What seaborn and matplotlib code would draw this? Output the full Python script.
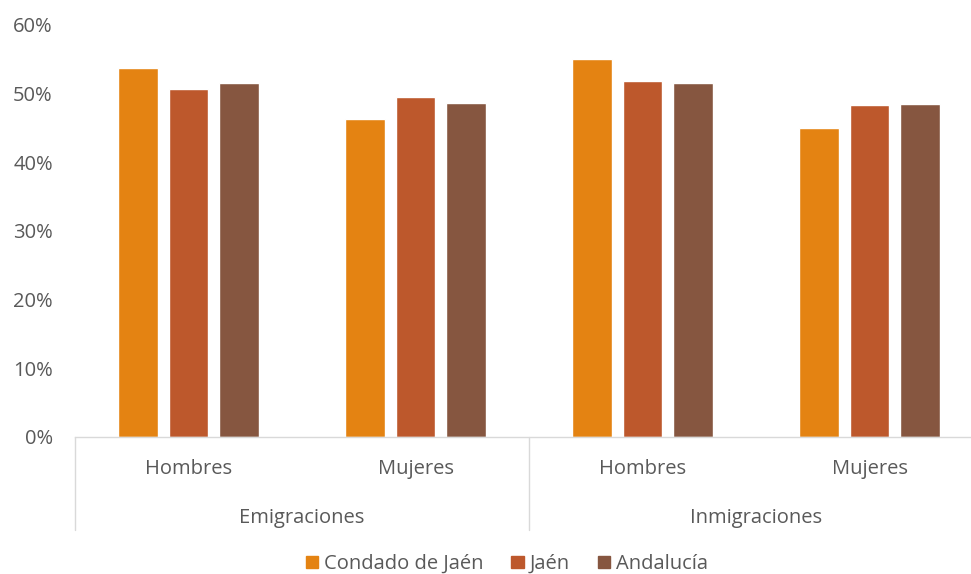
import matplotlib
matplotlib.use("Agg")
import matplotlib.pyplot as plt
import matplotlib.patches as mpatches
import seaborn as sns
import pandas as pd

groups = ["Emigraciones", "Inmigraciones"]
sexes = ["Hombres", "Mujeres", "Hombres", "Mujeres"]
categories = ["Emigraciones\nHombres", "Emigraciones\nMujeres", "Inmigraciones\nHombres", "Inmigraciones\nMujeres"]
series = ["Condado de Jaén", "Jaén", "Andalucía"]
condado = [53.8, 46.3, 55.0, 45.0]
jaen = [50.7, 49.5, 51.8, 48.3]
andalucia = [51.5, 48.7, 51.6, 48.5]
yticks = [0, 10, 20, 30, 40, 50, 60]
colors = ["#E48312", "#BD582C", "#865640"]

rows = []
for name, vals in zip(series, [condado, jaen, andalucia]):
    for c, v in zip(categories, vals):
        rows.append({"cat": c, "serie": name, "val": v})
df = pd.DataFrame(rows)

sns.set_style("white")
plt.rcParams["font.family"] = ["Open Sans", "DejaVu Sans"]
txt = "#595959"
fs = 14.5

fig = plt.figure(figsize=(9.71, 5.74), dpi=100)
ax = fig.add_axes([75/971, (574-437)/574, (983-75)/971, 412/574])
sns.barplot(data=df, x="cat", y="val", hue="serie", order=categories,
            hue_order=series, palette=colors, width=0.667, gap=0.21,
            saturation=1, ax=ax, legend=False)

ax.set_ylim(0, 60)
ax.set_xlim(-0.5, 3.5)
ax.set_yticks(yticks)
ax.set_yticklabels([f"{t}%" for t in yticks], color=txt, fontsize=fs)
ax.tick_params(axis="y", length=0, pad=16)
ax.set_xticks(range(4))
ax.set_xticklabels(sexes, color=txt, fontsize=fs)
ax.tick_params(axis="x", length=0, pad=16)
ax.set_xlabel("")
ax.set_ylabel("")
for s in ["top", "right", "left"]:
    ax.spines[s].set_visible(False)
ax.spines["bottom"].set_color("#D9D9D9")
ax.spines["bottom"].set_linewidth(1)

# group labels and separators
trans = ax.get_xaxis_transform()
for x0 in [-0.5, 1.5]:
    ax.plot([x0, x0], [0, -93/412], transform=trans, color="#D9D9D9", lw=1, clip_on=False)
for i, g in enumerate(groups):
    ax.text(0.5 + 2 * i, -81/412, g, transform=trans, ha="center", va="center", color=txt, fontsize=fs)

handles = [mpatches.Patch(color=c, label=s) for c, s in zip(colors, series)]
leg = fig.legend(handles=handles, loc="center", bbox_to_anchor=(0.522, 1 - 564/574),
                 ncol=3, frameon=False, fontsize=fs, handlelength=0.6, handleheight=0.6,
                 handletextpad=0.3, columnspacing=1.4)
for t in leg.get_texts():
    t.set_color(txt)

fig.savefig("out.png", dpi=100)
